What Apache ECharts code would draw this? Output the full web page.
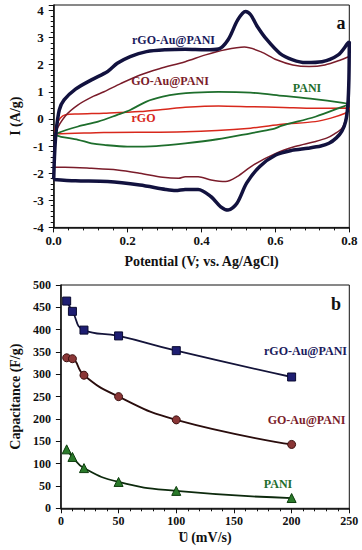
<!DOCTYPE html>
<html><head><meta charset="utf-8">
<script src="https://cdn.jsdelivr.net/npm/echarts@6/dist/echarts.min.js"></script>
<style>html,body{margin:0;padding:0;background:#fff}#c{width:362px;height:550px}</style>
</head><body><div id="c"></div>
<script>
// ---- Panel a: cyclic voltammograms, [potential (V), current (A/g)], traced around each loop
const cvRgoAuPani = [
  [0,-2.23],[0.002,-1.4],[0.006,-0.53],[0.015,0.33],[0.028,0.7],[0.059,1.1],[0.102,1.44],[0.146,1.75],
  [0.172,2.05],[0.207,2.3],[0.251,2.48],[0.303,2.55],[0.356,2.57],[0.411,2.55],[0.446,2.58],[0.472,2.92],
  [0.498,3.65],[0.519,3.96],[0.533,3.84],[0.551,3.41],[0.577,2.92],[0.612,2.42],[0.647,2.18],[0.682,2.08],
  [0.726,2.11],[0.770,2.36],[0.796,2.79],[0.8,2.85],
  [0.799,1.5],[0.796,0.5],[0.79,-0.1],[0.78,-0.45],[0.765,-0.7],[0.745,-0.9],[0.723,-1.0],[0.688,-1.08],
  [0.644,-1.16],[0.601,-1.33],[0.557,-1.76],[0.522,-2.37],[0.496,-3.11],[0.472,-3.36],[0.452,-3.24],
  [0.426,-2.87],[0.391,-2.6],[0.356,-2.6],[0.33,-2.64],[0.303,-2.6],[0.233,-2.44],[0.146,-2.31],
  [0.059,-2.28],[0,-2.23]
];
const cvGoAuPani = [
  [0,-1.78],[0.002,-1.0],[0.006,-0.47],[0.032,0.12],[0.066,0.52],[0.108,0.84],[0.136,1.0],[0.181,1.3],
  [0.234,1.62],[0.286,1.85],[0.356,2.11],[0.411,2.36],[0.464,2.55],[0.516,2.65],[0.560,2.48],[0.603,2.18],
  [0.647,1.99],[0.691,1.93],[0.734,1.99],[0.778,2.18],[0.8,2.3],
  [0.798,1.3],[0.795,0.5],[0.79,0.0],[0.78,-0.35],[0.76,-0.55],[0.74,-0.7],[0.706,-0.84],[0.653,-1.02],
  [0.601,-1.27],[0.540,-1.70],[0.496,-2.13],[0.465,-2.31],[0.426,-2.25],[0.391,-2.13],[0.356,-2.13],
  [0.338,-2.19],[0.295,-2.15],[0.233,-2.0],[0.172,-1.88],[0.102,-1.82],[0.03,-1.78],[0,-1.78]
];
const cvPani = [
  [0.005,-0.6],[0.009,-0.53],[0.066,-0.28],[0.12,-0.1],[0.172,0.15],[0.207,0.33],[0.251,0.64],[0.295,0.82],
  [0.338,0.92],[0.38,0.97],[0.446,1.0],[0.533,0.97],[0.621,0.85],[0.706,0.73],[0.778,0.6],[0.797,0.55],
  [0.77,0.39],[0.708,0.08],[0.618,-0.25],[0.592,-0.38],[0.533,-0.53],[0.443,-0.75],[0.356,-0.9],
  [0.277,-1.0],[0.199,-1.02],[0.136,-0.96],[0.102,-0.9],[0.066,-0.77],[0.02,-0.66],[0.005,-0.6]
];
const cvRgo = [
  [0.003,-0.5],[0.005,-0.28],[0.018,0.03],[0.032,0.15],[0.066,0.18],[0.136,0.21],[0.233,0.27],[0.303,0.36],
  [0.356,0.43],[0.446,0.48],[0.533,0.45],[0.621,0.42],[0.708,0.39],[0.8,0.4],
  [0.797,0.3],[0.789,0.21],[0.75,0.03],[0.708,-0.1],[0.618,-0.2],[0.533,-0.34],[0.356,-0.47],
  [0.136,-0.5],[0.009,-0.55],[0.003,-0.5]
];
// ---- Panel b: specific capacitance vs scan rate
const scanRates = [5, 10, 20, 50, 100, 200];
const capRgoAuPani = [464, 441, 399, 386, 353, 294];
const capGoAuPani = [337, 335, 298, 250, 198, 143];
const capPani = [132, 115, 90, 59, 39, 23];

const pairs = (xs, ys) => xs.map((x, i) => [x, ys[i]]);

const FONT = '"Liberation Serif", "Times New Roman", serif';
const INK = '#111';
const NAVY = '#1b1b5c', MAROON = '#7a1c2a', GREEN = '#1e6e2c', RED = '#d8281c';

function axisBase(extra) {
  return Object.assign({
    type: 'value',
    axisLine: { show: true, onZero: false, lineStyle: { color: INK, width: 1.5 } },
    axisTick: { show: true, inside: false, length: 5, lineStyle: { color: INK, width: 1 } },
    minorTick: { show: true, splitNumber: 5, length: 3, lineStyle: { color: INK, width: 1 } },
    splitLine: { show: false },
    axisLabel: { color: INK, fontFamily: FONT, fontWeight: 'bold', fontSize: 13 },
    nameLocation: 'middle',
    nameTextStyle: { color: INK, fontFamily: FONT, fontWeight: 'bold', fontSize: 14 }
  }, extra);
}

const chart = echarts.init(document.getElementById('c'), null, { renderer: 'svg' });

const txt = (text, x, y, fill, size) => ({
  type: 'text', x: x, y: y, z: 100,
  style: { text: text, fill: fill, align: 'center', verticalAlign: 'middle',
           fontFamily: FONT, fontWeight: 'bold', fontSize: size }
});

chart.setOption({
  animation: false,
  backgroundColor: '#fff',
  grid: [
    { left: 44.3, right: 12.7, top: 5, bottom: 322.6, show: true, borderColor: INK, borderWidth: 1 },
    { left: 49, right: 12.7, top: 285, bottom: 41.7, show: true, borderColor: INK, borderWidth: 1 }
  ],
  xAxis: [
    axisBase({ gridIndex: 0, min: 0, max: 0.8, interval: 0.2,
      axisLabel: { color: INK, fontFamily: FONT, fontWeight: 'bold', fontSize: 13, margin: 7,
                   formatter: v => v.toFixed(1) },
      name: 'Potential (V; vs. Ag/AgCl)', nameGap: 27 }),
    axisBase({ gridIndex: 1, min: 0, max: 250, interval: 50,
      axisLabel: { color: INK, fontFamily: FONT, fontWeight: 'bold', fontSize: 12, margin: 7 },
      name: 'Ʋ (mV/s)', nameGap: 22 })
  ],
  yAxis: [
    axisBase({ gridIndex: 0, min: -4, max: 4.2, interval: 1,
      axisLabel: { color: INK, fontFamily: FONT, fontWeight: 'bold', fontSize: 13, margin: 10, showMaxLabel: false },
      name: 'I (A/g)', nameGap: 26 }),
    axisBase({ gridIndex: 1, min: 0, max: 500, interval: 50,
      minorTick: { show: false },
      axisLabel: { color: INK, fontFamily: FONT, fontWeight: 'bold', fontSize: 12, margin: 10 },
      name: 'Capacitance (F/g)', nameGap: 32 })
  ],
  series: [
    { type: 'line', xAxisIndex: 0, yAxisIndex: 0, data: cvRgo, showSymbol: false, smooth: 0.3,
      lineStyle: { color: RED, width: 1.5 }, z: 2 },
    { type: 'line', xAxisIndex: 0, yAxisIndex: 0, data: cvPani, showSymbol: false, smooth: 0.3,
      lineStyle: { color: GREEN, width: 1.8 }, z: 3 },
    { type: 'line', xAxisIndex: 0, yAxisIndex: 0, data: cvGoAuPani, showSymbol: false, smooth: 0.3,
      lineStyle: { color: MAROON, width: 1.5 }, z: 4 },
    { type: 'line', xAxisIndex: 0, yAxisIndex: 0, data: cvRgoAuPani, showSymbol: false, smooth: 0.3,
      lineStyle: { color: '#12123f', width: 3.5 }, z: 5 },

    { type: 'line', xAxisIndex: 1, yAxisIndex: 1, data: pairs(scanRates, capRgoAuPani),
      smooth: 0.5, symbol: 'rect', symbolSize: 8,
      itemStyle: { color: '#1e1e72', borderColor: '#0a0a30', borderWidth: 1 },
      lineStyle: { color: '#14143a', width: 1.8 } },
    { type: 'line', xAxisIndex: 1, yAxisIndex: 1, data: pairs(scanRates, capGoAuPani),
      smooth: 0.5, symbol: 'circle', symbolSize: 8,
      itemStyle: { color: '#8a3636', borderColor: '#3a0e0e', borderWidth: 1 },
      lineStyle: { color: '#2a0d0d', width: 1.8 } },
    { type: 'line', xAxisIndex: 1, yAxisIndex: 1, data: pairs(scanRates, capPani),
      smooth: 0.5, symbol: 'triangle', symbolSize: 9,
      itemStyle: { color: '#2a7a2a', borderColor: '#0d3d0d', borderWidth: 1 },
      lineStyle: { color: '#0d2a0d', width: 1.8 } }
  ],
  graphic: [
    txt('rGO-Au@PANI', 173.5, 40, NAVY, 12),
    txt('GO-Au@PANI', 170, 81, MAROON, 12),
    txt('PANI', 307, 88, GREEN, 12),
    txt('rGO', 143.5, 118, RED, 12),
    txt('a', 341, 23, INK, 18),
    txt('rGO-Au@PANI', 305.5, 351, NAVY, 12),
    txt('GO-Au@PANI', 306.5, 420, MAROON, 12),
    txt('PANI', 278, 484, GREEN, 12),
    txt('b', 336, 304, INK, 18)
  ]
});
</script>
</body></html>
